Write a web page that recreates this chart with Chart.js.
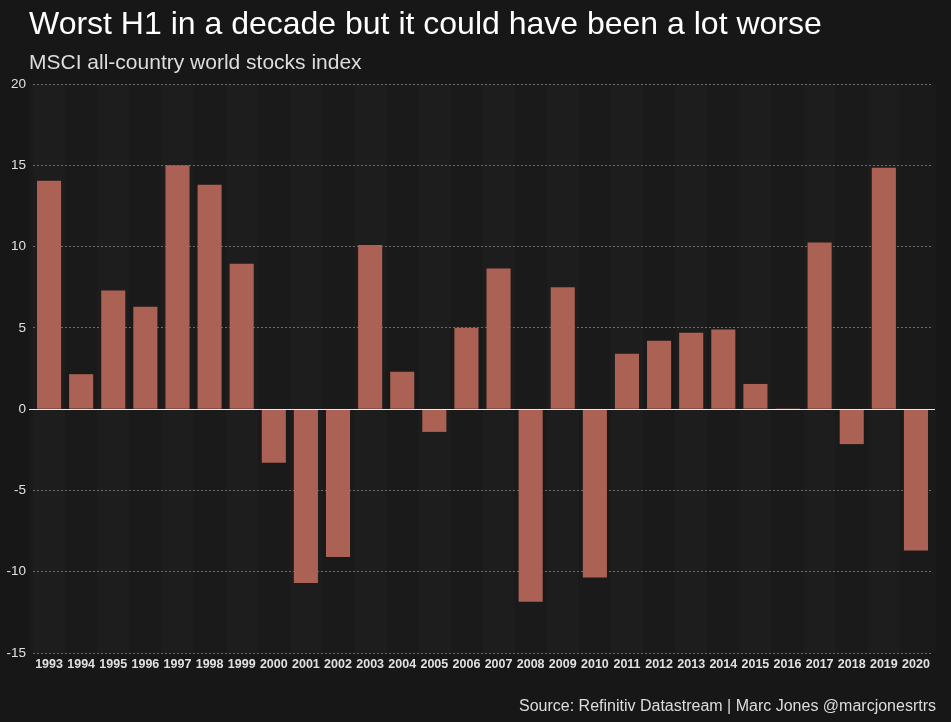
<!DOCTYPE html>
<html>
<head>
<meta charset="utf-8">
<script src="https://cdn.jsdelivr.net/npm/chart.js@4.4.1/dist/chart.umd.min.js"></script>
<style>
  html, body { margin: 0; padding: 0; background: #171717; }
  #wrap { position: relative; width: 951px; height: 722px; overflow: hidden; font-family: "Liberation Sans", Arial, sans-serif; }
  #title { position: absolute; left: 29px; top: 5px; font-size: 32px; color: #fff; white-space: nowrap; }
  #subtitle { position: absolute; left: 29px; top: 50px; font-size: 21px; color: #ddd; white-space: nowrap; }
  #source { position: absolute; right: 15px; top: 697px; font-size: 16px; color: #ddd; white-space: nowrap; }
  #box { position: absolute; left: 0; top: 0; width: 951px; height: 722px; }
</style>
</head>
<body>
<div id="wrap">
  <div id="box"><canvas id="h1Chart"></canvas></div>
  <div id="title">Worst H1 in a decade but it could have been a lot worse</div>
  <div id="subtitle">MSCI all-country world stocks index</div>
  <div id="source">Source: Refinitiv Datastream | Marc Jones @marcjonesrtrs</div>
</div>
<script>
// H1 % change, MSCI ACWI
const years = ['1993', '1994', '1995', '1996', '1997', '1998', '1999', '2000', '2001', '2002',
    '2003', '2004', '2005', '2006', '2007', '2008', '2009', '2010', '2011', '2012',
    '2013', '2014', '2015', '2016', '2017', '2018', '2019', '2020'];
const h1Change = [14.05, 2.15, 7.3, 6.3, 15.0, 13.8, 8.95, -3.3, -10.7, -9.1,
    10.1, 2.3, -1.4, 5.0, 8.65, -11.85, 7.5, -10.35, 3.4, 4.2,
    4.7, 4.9, 1.55, 0.05, 10.25, -2.15, 14.85, -8.7];
const yTicks = [-15, -10, -5, 0, 5, 10, 15, 20];

// alternating column bands behind everything + solid zero line
const bandsPlugin = {
    id: 'bands',
    beforeDraw(chart) {
        const { ctx, chartArea, scales } = chart;
        const xs = scales.x;
        const step = xs.getPixelForValue(1) - xs.getPixelForValue(0);
        ctx.save();
        ctx.fillStyle = '#1a1a1a';
        ctx.fillRect(chartArea.left - 4, chartArea.top, chartArea.width + 8, chartArea.height);
        ctx.fillStyle = 'rgba(255,255,255,0.014)';
        years.forEach((y, i) => {
            if (i % 2 === 0) {
                const cx = xs.getPixelForValue(i);
                ctx.fillRect(cx - step / 2, chartArea.top, step, chartArea.height);
            }
        });
        ctx.restore();
    },
    afterDatasetsDraw(chart) {
        const { ctx, chartArea, scales } = chart;
        const y0 = Math.round(scales.y.getPixelForValue(0)) + 0.5;
        ctx.save();
        ctx.strokeStyle = '#e8e8e8';
        ctx.lineWidth = 1;
        ctx.beginPath();
        ctx.moveTo(chartArea.left - 4, y0);
        ctx.lineTo(chartArea.right + 3, y0);
        ctx.stroke();
        ctx.restore();
    }
};

const ctx = document.getElementById('h1Chart').getContext('2d');
const h1Chart = new Chart(ctx, {
    type: 'bar',
    data: {
        labels: years,
        datasets: [{
            data: h1Change,
            backgroundColor: '#ab6254',
            borderWidth: 0,
            barPercentage: 0.75,
            categoryPercentage: 1.0
        }]
    },
    plugins: [bandsPlugin],
    options: {
        responsive: true,
        maintainAspectRatio: false,
        animation: false,
        layout: { padding: { top: 84, bottom: 45, left: 0, right: 19 } },
        plugins: {
            legend: { display: false },
            tooltip: { enabled: false }
        },
        scales: {
            x: {
                grid: { display: false, drawTicks: false },
                border: { display: false },
                ticks: {
                    color: '#e0e0e0',
                    font: { family: 'Liberation Sans', size: 12.5, weight: 'bold' },
                    maxRotation: 0,
                    autoSkip: false,
                    padding: 4
                },
                afterFit(scale) { scale.height = 24; }
            },
            y: {
                min: -15,
                max: 20,
                afterBuildTicks(scale) { scale.ticks = yTicks.map(v => ({ value: v })); },
                grid: {
                    color: ctx => ctx.tick && ctx.tick.value === 0 ? 'rgba(0,0,0,0)' : 'rgba(190,190,190,0.5)',
                    drawTicks: false
                },
                border: { display: false, dash: [2, 2] },
                ticks: {
                    color: '#e0e0e0',
                    font: { family: 'Liberation Sans', size: 13.5 },
                    padding: 7
                },
                afterFit(scale) { scale.width = 33; }
            }
        }
    }
});
</script>
</body>
</html>
